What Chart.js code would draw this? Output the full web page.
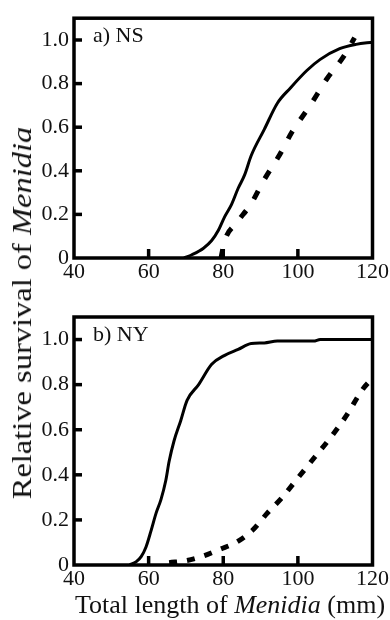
<!DOCTYPE html>
<html>
<head>
<meta charset="utf-8">
<script src="https://cdn.jsdelivr.net/npm/chart.js@4/dist/chart.umd.min.js"></script>
<style>
  html, body { margin: 0; padding: 0; background: #fff; }
  body { width: 390px; height: 620px; position: relative; overflow: hidden; font-family: "Liberation Serif", serif; }
  .wrap { position: absolute; left: 0; width: 390px; }
  #w1 { top: 0; height: 292px; }
  #w2 { top: 295px; height: 300px; }
  #ytitle { position: absolute; left: 22px; top: 313px; white-space: nowrap; font-size: 28px; color: #111;
            transform: translate(-50%, -50%) rotate(-90deg) scale(1.16, 1); transform-origin: center; }
  #xtitle { position: absolute; left: 230px; top: 605px; white-space: nowrap; font-size: 26px; color: #111;
            transform: translate(-50%, -50%); }
  i { font-style: italic; }
</style>
</head>
<body>
<div class="wrap" id="w1"><canvas id="c1"></canvas></div>
<div class="wrap" id="w2"><canvas id="c2"></canvas></div>
<div id="ytitle">Relative survival of <i>Menidia</i></div>
<div id="xtitle">Total length of <i>Menidia</i> (mm)</div>
<script>
// ---- data ----
const xTicks = [40, 60, 80, 100, 120];
const yTicks = [0, 0.2, 0.4, 0.6, 0.8, 1.0];
const panelLabels = ["a) NS", "b) NY"];

const nsSolidX = [69.5, 71.6, 74.7, 76.9, 78.7, 80.4, 82.2, 84.0, 85.7, 87.5, 91.0, 94.5, 98.0, 102.4, 105.9, 111.2, 115.6, 120];
const nsSolidY = [0, 0.015, 0.045, 0.08, 0.127, 0.19, 0.245, 0.32, 0.38, 0.47, 0.59, 0.71, 0.78, 0.86, 0.91, 0.96, 0.98, 0.99];
const nsDashX = [79.4, 80.4, 83.5, 87.5, 91.0, 95.0, 98.5, 103.3, 107.7, 112.1, 115.2];
const nsDashY = [0.0, 0.08, 0.16, 0.25, 0.36, 0.47, 0.58, 0.70, 0.82, 0.92, 1.01];

const nySolidX = [54.9, 56.7, 58.0, 59.3, 60.7, 62.0, 63.3, 64.6, 65.5, 66.8, 68.6, 70.3, 73.4, 76.9, 80.4, 84.0, 87.5, 91.0, 94.5, 104.2, 106.0, 120];
const nySolidY = [0, 0.015, 0.037, 0.08, 0.155, 0.23, 0.29, 0.375, 0.46, 0.55, 0.64, 0.73, 0.80, 0.89, 0.93, 0.956, 0.982, 0.985, 0.993, 0.993, 1.0, 1.0];
const nyDashX = [65.5, 70.3, 74.7, 79.2, 83.4, 87.9, 91.8, 95.8, 100.2, 104.6, 109.0, 112.9, 117.4, 119.5];
const nyDashY = [0.01, 0.02, 0.04, 0.07, 0.10, 0.155, 0.23, 0.30, 0.39, 0.48, 0.57, 0.66, 0.78, 0.82];

function pts(xs, ys) { return xs.map((x, i) => ({ x: x, y: ys[i] })); }

const framePlugin = {
  id: 'frame',
  afterDatasetsDraw(chart, args, opts) {
    const { ctx, chartArea: a, scales } = chart;
    ctx.save();
    ctx.strokeStyle = '#000';
    ctx.lineWidth = 3.5;
    ctx.lineCap = 'butt';
    yTicks.forEach(v => {
      if (v === 0) return;
      const py = scales.y.getPixelForValue(v);
      ctx.beginPath(); ctx.moveTo(a.left, py); ctx.lineTo(a.left + 8, py); ctx.stroke();
    });
    xTicks.forEach(v => {
      if (v === 40 || v === 120) return;
      const px = scales.x.getPixelForValue(v);
      ctx.beginPath(); ctx.moveTo(px, a.bottom); ctx.lineTo(px, a.bottom - 9); ctx.stroke();
    });
    ctx.strokeRect(a.left, a.top, a.right - a.left, a.bottom - a.top);
    ctx.fillStyle = '#111';
    ctx.font = '22px "Liberation Serif", serif';
    ctx.textBaseline = 'alphabetic';
    ctx.fillText(opts.label, a.left + 19, a.top + 24);
    ctx.restore();
  }
};

function makeChart(id, solid, dash, label, padTop, xH, dashPattern) {
  return new Chart(document.getElementById(id), {
    type: 'line',
    data: {
      datasets: [
        { data: solid, borderColor: '#000', borderWidth: 3, pointRadius: 0, cubicInterpolationMode: 'monotone', fill: false },
        { data: dash, borderColor: '#000', borderWidth: 5, borderDash: dashPattern, borderCapStyle: 'butt', pointRadius: 0, cubicInterpolationMode: 'monotone', fill: false }
      ]
    },
    options: {
      responsive: true,
      maintainAspectRatio: false,
      animation: false,
      layout: { padding: { left: 0, right: 14, top: padTop, bottom: 0 } },
      plugins: { legend: { display: false }, tooltip: { enabled: false }, frame: { label: label } },
      scales: {
        x: {
          type: 'linear', min: 40, max: 120,
          afterBuildTicks: s => { s.ticks = xTicks.map(v => ({ value: v })); },
          afterFit: s => { s.height = xH; },
          grid: { display: false, drawTicks: false },
          border: { display: false },
          ticks: { color: '#111', padding: 1, maxRotation: 0, autoSkip: false, font: { family: 'Liberation Serif', size: 22 } }
        },
        y: {
          min: 0, max: 1.1,
          afterBuildTicks: s => { s.ticks = yTicks.map(v => ({ value: v })); },
          afterFit: s => { s.width = 74; },
          grid: { display: false, drawTicks: false },
          border: { display: false },
          ticks: { color: '#111', padding: 5, autoSkip: false, font: { family: 'Liberation Serif', size: 22 },
                   callback: v => v === 0 ? '0' : Number(v).toFixed(1) }
        }
      }
    },
    plugins: [framePlugin]
  });
}

makeChart('c1', pts(nsSolidX, nsSolidY), pts(nsDashX, nsDashY), panelLabels[0], 13, 34, [9, 14]);
makeChart('c2', pts(nySolidX, nySolidY), pts(nyDashX, nyDashY), panelLabels[1], 22, 30, [8, 10]);
</script>
</body>
</html>
